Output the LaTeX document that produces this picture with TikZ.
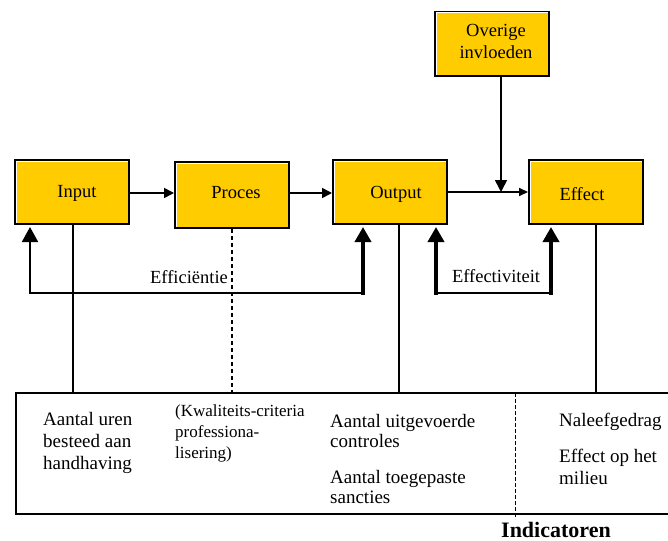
\documentclass[tikz,border=0pt]{standalone}
\usepackage{fontspec}
\setmainfont{Liberation Serif}
\usetikzlibrary{arrows.meta}
\definecolor{boxyellow}{HTML}{FFCC00}
\tikzset{
  ybox/.style={draw=black, fill=boxyellow, line width=2pt, minimum width=114pt, minimum height=64pt, inner sep=0pt},
  boxlabel/.style={inner sep=0pt, font=\fontsize{18.5}{22}\selectfont, align=center},
  conn/.style={line width=1.6pt},
  smallarrow/.style={-{Triangle[length=10pt,width=10pt]}},
  bigarrow/.style={-{Triangle[length=15pt,width=16pt]}},
  thickline/.style={line width=3.6pt},
  indtext/.style={anchor=base west, inner sep=0pt, align=left, font=\fontsize{19}{22}\selectfont},
}
\newcommand{\hilite}[1]{%
  \draw[white, line width=1pt] ([shift={(2pt,2pt)}]#1.south west) -- ([shift={(2pt,-2pt)}]#1.north west) -- ([shift={(-2pt,-2pt)}]#1.north east);}
\begin{document}
\begin{tikzpicture}[x=1pt,y=-1pt]
\useasboundingbox (0,0) rectangle (668,540);
\clip (0,0) rectangle (668,540);
% boxes
\node[ybox] (in) at (72,192) {};
\node[ybox, minimum height=66pt] (pr) at (232,195) {};
\node[ybox] (out) at (390,192) {};
\node[ybox] (eff) at (586,192) {};
\node[ybox] (ov) at (492,44) {};
\hilite{in}\hilite{pr}\hilite{out}\hilite{eff}\hilite{ov}
\node[boxlabel] (inl) at (77,193) {Input};
\node[boxlabel] (prl) at (236,193) {Proces};
\node[boxlabel] (outl) at (396,194) {Output};
\node[boxlabel] (effl) at (582,194) {Effect};
\node[boxlabel] (ovl) at (496,41) {Overige\\invloeden};
% indicator box
\node[draw, line width=2pt, minimum width=690pt, minimum height=121pt, anchor=north west, inner sep=0pt] (ind) at (15,392) {};
% main chain
\draw[conn, smallarrow] (in.east |- 0,193) -- (pr.west |- 0,193);
\draw[conn, smallarrow] (pr.east |- 0,193) -- (out.west |- 0,193);
\coordinate (join) at (501,192);
\draw[conn, -{Triangle[length=9pt,width=8pt]}] (out.east |- join) -- (eff.west |- join);
\draw[conn, -{Triangle[length=12pt,width=12pt]}] (ov.south -| join) -- (join);
% efficiency loop
\coordinate (e1) at (30,293);
\coordinate (e2) at (363,293);
\draw[line width=2pt, bigarrow] (e2) -- (e1) -- ([yshift=-2pt]in.south -| e1);
\draw[thickline, line cap=rect, bigarrow] (e2) -- ([yshift=-2pt]out.south -| e2);
\node[font=\fontsize{18.5}{20}\selectfont, inner sep=0pt] (effi) at (189,277) {Efficiëntie};
% effectiveness loop
\coordinate (f1) at (436,293);
\coordinate (f2) at (551,293);
\draw[line width=2pt] (f1) -- (f2);
\draw[thickline, line cap=rect, bigarrow] (f1) -- ([yshift=-2pt]out.south -| f1);
\draw[thickline, line cap=rect, bigarrow] (f2) -- ([yshift=-2pt]eff.south -| f2);
\node[font=\fontsize{18.5}{20}\selectfont, inner sep=0pt] (effe) at (496,276) {Effectiviteit};
% drops to indicator box
\draw[conn] (in.south -| 73,0) -- (ind.north -| 73,0);
\draw[conn, dash pattern=on 4pt off 3pt] (pr.south -| 232,0) -- (ind.north -| 232,0);
\draw[conn] (out.south -| 399,0) -- (ind.north -| 399,0);
\draw[conn] (eff.south -| 596,0) -- (ind.north -| 596,0);
% divider
\coordinate (d1) at (515,393);
\coordinate (d2) at (515,519);
\draw[line width=0.9pt, dash pattern=on 4pt off 2pt] (d1) -- (d2);
% texts (base = baseline of last line)
\node[indtext] (t1) at (43,469) {Aantal uren\\besteed aan\\handhaving};
\node[indtext, font=\fontsize{17}{21}\selectfont] (t2) at (175,458) {(Kwaliteits-criteria\\professiona-\\lisering)};
\node[indtext, font=\fontsize{19}{20}\selectfont] (t3) at (330,447) {Aantal uitgevoerde\\controles};
\node[indtext, font=\fontsize{19}{20}\selectfont] (t4) at (330,503) {Aantal toegepaste\\sancties};
\node[indtext] (t5) at (559,426) {Naleefgedrag};
\node[indtext] (t6) at (559,484) {Effect op het\\milieu};
\node[anchor=base west, inner sep=0pt, font=\fontsize{22}{24}\selectfont\bfseries] (ttl) at (501,537) {Indicatoren};
\end{tikzpicture}
\end{document}
